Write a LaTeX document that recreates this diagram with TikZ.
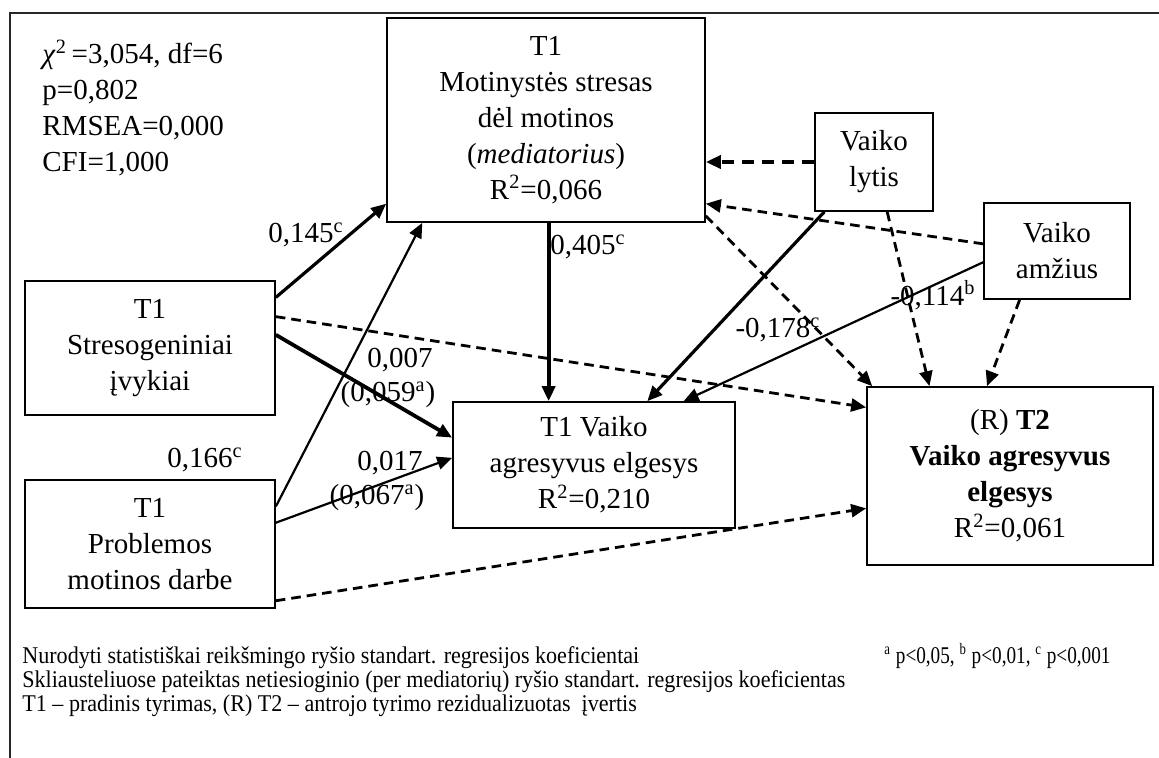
\documentclass[tikz,border=0pt]{standalone}
\usepackage{fontspec}
\setmainfont{Liberation Serif}
\newfontfamily\notefont[FakeStretch=0.92]{Liberation Serif}
\newfontfamily\signiffont[FakeStretch=0.8]{Liberation Serif}
\usetikzlibrary{arrows.meta,calc}
\newcommand{\mainsize}{\fontsize{14.5}{18}\selectfont}
\newcommand{\notesize}{\notefont\fontsize{12}{12}\selectfont}
\newcommand{\signifsize}{\signiffont\fontsize{12}{12}\selectfont}

\begin{document}
\begin{tikzpicture}[x=0.5pt,y=-0.5pt,
  box/.style={draw, line width=0.85pt, inner sep=0pt, align=center, font=\mainsize},
  lbl/.style={font=\mainsize, inner sep=0pt},
  note/.style={font=\notesize, inner sep=0pt, anchor=base west},
  arr/.style={-{Triangle[length=7.5pt,width=6.5pt]}},
  heavy/.style={arr, line width=1.9pt},
  bold/.style={arr, line width=1.6pt},
  thin/.style={arr, line width=1.1pt},
  dashline/.style={arr, line width=1.4pt, dash pattern=on 4.8pt off 3pt},
  dashheavy/.style={arr, line width=2pt, dash pattern=on 6pt off 4pt}]

\useasboundingbox (0,0) rectangle (1159,758);

% page frame (top and left edges)
\draw[line width=1.1pt, black!85] (10,758) -- (10,13) -- (1159,13);

% model fit
\node[lbl, anchor=west, align=left] (fit) at (42,108)
  {\textit{χ}\textsuperscript{2}\,=3,054, df=6\\p=0,802\\RMSEA=0,000\\CFI=1,000};

% variables
\node[box, minimum width=159pt, minimum height=102pt] (M) at (546,120)
  {T1\\Motinystės stresas\\dėl motinos\\(\textit{mediatorius})\\R\textsuperscript{2}=0,066};
\node[box, minimum width=125pt, minimum height=67pt] (S) at (150,348)
  {T1\\Stresogeniniai\\įvykiai};
\node[box, minimum width=125pt, minimum height=64pt] (P) at (150,544)
  {T1\\Problemos\\motinos darbe};
\node[box, minimum width=141pt, minimum height=63pt] (C) at (594,465)
  {T1 Vaiko\\agresyvus elgesys\\R\textsuperscript{2}=0,210};
\node[box, minimum width=143pt, minimum height=89pt] (T) at (1010,476)
  {(R) \textbf{T2}\\\textbf{Vaiko agresyvus}\\\textbf{elgesys}\\R\textsuperscript{2}=0,061};
\node[box, minimum width=59pt, minimum height=49pt] (L) at (874,162)
  {Vaiko\\lytis};
\node[box, minimum width=73pt, minimum height=48pt] (A) at (1057,251)
  {Vaiko\\amžius};

% attachment point on top of the child behaviour box
\coordinate (cTop) at ($(C.north west)!0.34!(C.north east)$);

% paths from stressful events
\draw[bold] ($(S.north east)!0.127!(S.south east)$) -- ($(M.north west)!0.907!(M.south west)$);
\draw[dashline] ($(S.north east)!0.269!(S.south east)$) -- ($(T.north west)!0.118!(T.south west)$);
\draw[heavy] ($(S.north east)!0.403!(S.south east)$) -- ($(C.north west)!0.286!(C.south west)$);

% paths from problems at work
\draw[thin] ($(P.north east)!0.211!(P.south east)$) -- ($(M.south west)!0.113!(M.south east)$);
\draw[thin] ($(P.north east)!0.336!(P.south east)$) -- ($(C.north west)!0.444!(C.south west)$);
\draw[dashline] ($(P.north east)!0.9375!(P.south east)$) -- ($(T.north west)!0.68!(T.south west)$);

% paths from the mediator
\draw[heavy] (cTop |- M.south) -- (cTop);
\draw[dashline] ($(M.north east)!0.966!(M.south east)$) -- ($(T.north west)!0.021!(T.north east)$);

% paths from child's gender
\draw[dashheavy] (L.west) -- (L.west -| M.east);
\draw[bold] ($(L.south west)!0.085!(L.south east)$) -- ($(C.north west)!0.688!(C.north east)$);
\draw[dashline] ($(L.south west)!0.61!(L.south east)$) -- ($(T.north west)!0.22!(T.north east)$);

% paths from child's age
\draw[dashline] ($(A.north west)!0.427!(A.south west)$) -- ($(M.north east)!0.907!(M.south east)$);
\draw[thin] ($(A.north west)!0.615!(A.south west)$) -- ($(C.north west)!0.816!(C.north east)$);
\draw[dashline] ($(A.south west)!0.247!(A.south east)$) -- ($(T.north west)!0.42!(T.north east)$);

% coefficients
\node[lbl] (k1) at (306,235) {0,145\textsuperscript{c}};
\node[lbl] (k2) at (205,460) {0,166\textsuperscript{c}};
\node[lbl] (k3) at (400,360) {0,007};
\node[lbl] (k4) at (388,395) {(0,059\textsuperscript{a})};
\node[lbl] (k5) at (390,463) {0,017};
\node[lbl] (k6) at (377,498) {(0,067\textsuperscript{a})};
\node[lbl] (k7) at (588,247) {0,405\textsuperscript{c}};
\node[lbl] (k8) at (778,330) {-0,178\textsuperscript{c}};
\node[lbl] (k9) at (933,295) {-0,114\textsuperscript{b}};

% notes
\node[note] (n1) at (22,663) {Nurodyti statistiškai reikšmingo ryšio standart. regresijos koeficientai};
\node[note, font=\signifsize] (n1b) at (884,663) {\textsuperscript{a} p<0,05, \textsuperscript{b} p<0,01, \textsuperscript{c} p<0,001};
\node[note] (n2) at (22,687) {Skliausteliuose pateiktas netiesioginio (per mediatorių) ryšio standart. regresijos koeficientas};
\node[note] (n3) at (22,711) {T1 – pradinis tyrimas, (R) T2 – antrojo tyrimo rezidualizuotas \ įvertis};
\end{tikzpicture}
\end{document}
